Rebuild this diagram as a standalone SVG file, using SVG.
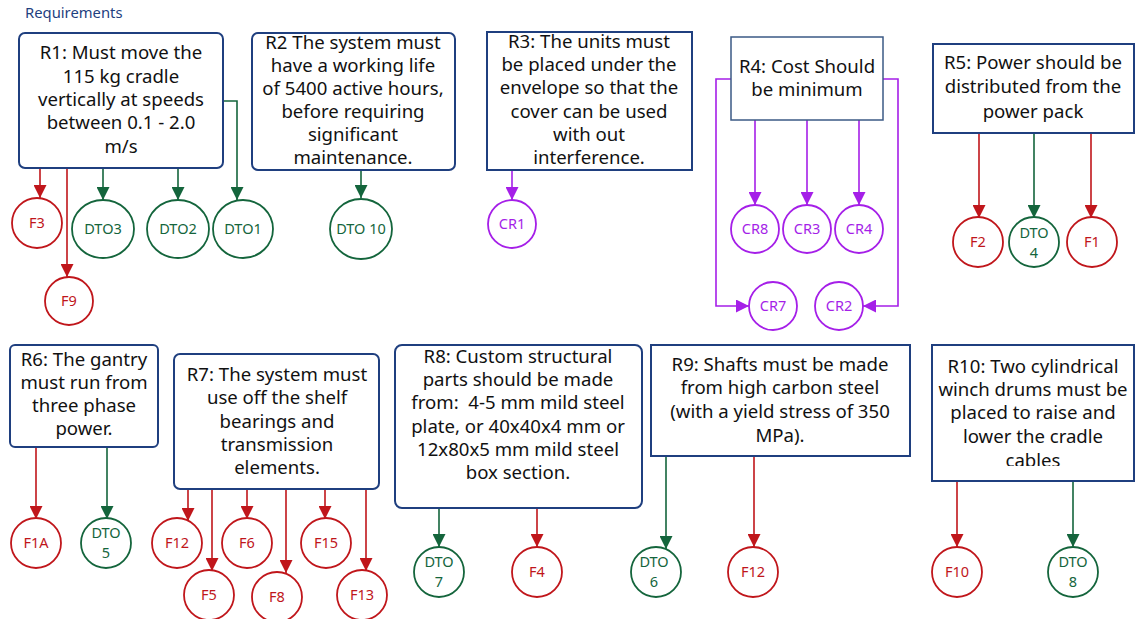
<svg xmlns="http://www.w3.org/2000/svg" width="1135" height="619" viewBox="0 0 1135 619">
<defs>
<style>
.box{fill:#fff;stroke:#1f3f7f;stroke-width:2}
.box2{fill:#fff;stroke:#3b5a85;stroke-width:1.5}
.bt{font-family:"Noto Sans","Open Sans",sans-serif;font-size:18.6px;fill:#111;text-anchor:middle}
.title{font-family:"Noto Sans","Open Sans",sans-serif;font-size:14.8px;fill:#1f3f7f}
.r{fill:#fff;stroke:#c0161b;stroke-width:1.8}
.g{fill:#fff;stroke:#14653c;stroke-width:1.8}
.p{fill:#fff;stroke:#a51fe8;stroke-width:1.8}
.rt,.gt,.pt{font-family:"Noto Sans","Open Sans",sans-serif;font-size:14.5px;text-anchor:middle}
.rt{fill:#c0161b}.gt{fill:#14653c}.pt{fill:#a51fe8}
.cr{fill:none;stroke:#c0161b;stroke-width:1.6;marker-end:url(#ar)}
.cg{fill:none;stroke:#14653c;stroke-width:1.6;marker-end:url(#ag)}
.cp{fill:none;stroke:#a51fe8;stroke-width:1.6;marker-end:url(#ap)}
</style>
<marker id="ar" viewBox="0 0 10 10" refX="10" refY="5" markerWidth="13" markerHeight="13" markerUnits="userSpaceOnUse" orient="auto"><path d="M0,0 L10,5 L0,10 z" fill="#c0161b"/></marker>
<marker id="ag" viewBox="0 0 10 10" refX="10" refY="5" markerWidth="13" markerHeight="13" markerUnits="userSpaceOnUse" orient="auto"><path d="M0,0 L10,5 L0,10 z" fill="#14653c"/></marker>
<marker id="ap" viewBox="0 0 10 10" refX="10" refY="5" markerWidth="13" markerHeight="13" markerUnits="userSpaceOnUse" orient="auto"><path d="M0,0 L10,5 L0,10 z" fill="#a51fe8"/></marker>
<clipPath id="clipR10"><rect x="932" y="345" width="203" height="121"/></clipPath>
</defs>
<rect width="1135" height="619" fill="#fff"/>
<text class="title" x="25" y="18">Requirements</text>

<g id="connectors">
<path class="cr" d="M40,168 V198"/>
<path class="cr" d="M67,168 V277"/>
<path class="cg" d="M103,168 V200"/>
<path class="cg" d="M178,168 V200"/>
<path class="cg" d="M223,101 H237 V200"/>
<path class="cg" d="M361,170 V198"/>
<path class="cp" d="M512,170 V200"/>
<path class="cp" d="M755,120 V205"/>
<path class="cp" d="M807,120 V205"/>
<path class="cp" d="M859,120 V205"/>
<path class="cp" d="M731,79 H716 V306 H749"/>
<path class="cp" d="M883,79 H898 V306 H863"/>
<path class="cr" d="M979,133 V218"/>
<path class="cg" d="M1034,133 V218"/>
<path class="cr" d="M1091,133 V218"/>
<path class="cr" d="M36,447 V519"/>
<path class="cg" d="M107,447 V519"/>
<path class="cr" d="M188,489 V521"/>
<path class="cr" d="M212,489 V571"/>
<path class="cr" d="M247,489 V519"/>
<path class="cr" d="M286,489 V573"/>
<path class="cr" d="M325,489 V519"/>
<path class="cr" d="M366,489 V571"/>
<path class="cg" d="M439,508 V547"/>
<path class="cr" d="M537,508 V547"/>
<path class="cg" d="M666,456 V549"/>
<path class="cr" d="M754,456 V547"/>
<path class="cr" d="M957,481 V547"/>
<path class="cg" d="M1073,481 V547"/>
</g>

<g id="R1"><rect class="box" x="19" y="33" width="204" height="135" rx="6"/>
<text class="bt"><tspan x="121" y="59">R1: Must move the</tspan><tspan x="121" y="83">115 kg cradle</tspan><tspan x="121" y="106">vertically at speeds</tspan><tspan x="121" y="129">between 0.1 - 2.0</tspan><tspan x="121" y="153">m/s</tspan></text></g>
<g id="F3"><circle class="r" cx="37" cy="223" r="25"/><text class="rt" x="37" y="228">F3</text></g>
<g id="F9"><circle class="r" cx="69" cy="301" r="24"/><text class="rt" x="69" y="306">F9</text></g>
<g id="DTO3"><ellipse class="g" cx="103" cy="229" rx="31" ry="29"/><text class="gt" x="103" y="234">DTO3</text></g>
<g id="DTO2"><ellipse class="g" cx="178" cy="229" rx="31" ry="29"/><text class="gt" x="178" y="234">DTO2</text></g>
<g id="DTO1"><ellipse class="g" cx="243" cy="229" rx="30" ry="29"/><text class="gt" x="243" y="234">DTO1</text></g>

<g id="R2"><rect class="box" x="252" y="33" width="203" height="137" rx="6"/>
<text class="bt"><tspan x="353" y="49">R2 The system must</tspan><tspan x="353" y="72">have a working life</tspan><tspan x="353" y="95">of 5400 active hours,</tspan><tspan x="353" y="118">before requiring</tspan><tspan x="353" y="141">significant</tspan><tspan x="353" y="164">maintenance.</tspan></text></g>
<g id="DTO10"><ellipse class="g" cx="361" cy="229" rx="31" ry="30"/><text class="gt" x="361" y="234">DTO 10</text></g>

<g id="R3"><rect class="box" x="487" y="32" width="205" height="138"/>
<text class="bt"><tspan x="589" y="48">R3: The units must</tspan><tspan x="589" y="71">be placed under the</tspan><tspan x="589" y="94">envelope so that the</tspan><tspan x="589" y="118">cover can be used</tspan><tspan x="589" y="141">with out</tspan><tspan x="589" y="164">interference.</tspan></text></g>
<g id="CR1"><circle class="p" cx="512" cy="224" r="24"/><text class="pt" x="512" y="229">CR1</text></g>

<g id="R4"><rect class="box2" x="731" y="37" width="152" height="83"/>
<text class="bt"><tspan x="807" y="73">R4: Cost Should</tspan><tspan x="807" y="96">be minimum</tspan></text></g>
<g id="CR8"><circle class="p" cx="755" cy="229" r="24"/><text class="pt" x="755" y="234">CR8</text></g>
<g id="CR3"><circle class="p" cx="807" cy="229" r="24"/><text class="pt" x="807" y="234">CR3</text></g>
<g id="CR4"><circle class="p" cx="859" cy="229" r="24"/><text class="pt" x="859" y="234">CR4</text></g>
<g id="CR7"><circle class="p" cx="773" cy="306" r="24"/><text class="pt" x="773" y="311">CR7</text></g>
<g id="CR2"><circle class="p" cx="839" cy="306" r="24"/><text class="pt" x="839" y="311">CR2</text></g>

<g id="R5"><rect class="box" x="933" y="44" width="201" height="89"/>
<text class="bt"><tspan x="1033" y="69">R5: Power should be</tspan><tspan x="1033" y="93">distributed from the</tspan><tspan x="1033" y="118">power pack</tspan></text></g>
<g id="F2"><circle class="r" cx="978" cy="242" r="25"/><text class="rt" x="978" y="247">F2</text></g>
<g id="DTO4"><circle class="g" cx="1034" cy="242" r="25"/><text class="gt"><tspan x="1034" y="238">DTO</tspan><tspan x="1034" y="258">4</tspan></text></g>
<g id="F1"><circle class="r" cx="1092" cy="242" r="25"/><text class="rt" x="1092" y="247">F1</text></g>

<g id="R6"><rect class="box" x="10" y="345" width="148" height="102" rx="5"/>
<text class="bt"><tspan x="84" y="366">R6: The gantry</tspan><tspan x="84" y="389">must run from</tspan><tspan x="84" y="412">three phase</tspan><tspan x="84" y="435">power.</tspan></text></g>
<g id="F1A"><circle class="r" cx="36" cy="543" r="25"/><text class="rt" x="36" y="548">F1A</text></g>
<g id="DTO5"><circle class="g" cx="106" cy="543" r="25"/><text class="gt"><tspan x="106" y="538">DTO</tspan><tspan x="106" y="558">5</tspan></text></g>

<g id="R7"><rect class="box" x="174" y="354" width="205" height="135" rx="6"/>
<text class="bt"><tspan x="277" y="381">R7: The system must</tspan><tspan x="277" y="404">use off the shelf</tspan><tspan x="277" y="428">bearings and</tspan><tspan x="277" y="451">transmission</tspan><tspan x="277" y="474">elements.</tspan></text></g>
<g id="F12a"><circle class="r" cx="177" cy="543" r="25"/><text class="rt" x="177" y="548">F12</text></g>
<g id="F6"><circle class="r" cx="247" cy="543" r="25"/><text class="rt" x="247" y="548">F6</text></g>
<g id="F15"><circle class="r" cx="326" cy="543" r="25"/><text class="rt" x="326" y="548">F15</text></g>
<g id="F5"><circle class="r" cx="209" cy="595" r="25"/><text class="rt" x="209" y="600">F5</text></g>
<g id="F8"><circle class="r" cx="277" cy="597" r="25"/><text class="rt" x="277" y="602">F8</text></g>
<g id="F13"><circle class="r" cx="362" cy="595" r="25"/><text class="rt" x="362" y="600">F13</text></g>

<g id="R8"><rect class="box" x="395" y="345" width="247" height="163" rx="7"/>
<text class="bt" style="white-space:pre"><tspan x="518" y="363">R8: Custom structural</tspan><tspan x="518" y="386">parts should be made</tspan><tspan x="518" y="409">from:  4-5 mm mild steel</tspan><tspan x="518" y="433">plate, or 40x40x4 mm or</tspan><tspan x="518" y="456">12x80x5 mm mild steel</tspan><tspan x="518" y="479">box section.</tspan></text></g>
<g id="DTO7"><circle class="g" cx="439" cy="572" r="25"/><text class="gt"><tspan x="439" y="567">DTO</tspan><tspan x="439" y="587">7</tspan></text></g>
<g id="F4"><circle class="r" cx="537" cy="572" r="25"/><text class="rt" x="537" y="577">F4</text></g>

<g id="R9"><rect class="box" x="651" y="345" width="259" height="111"/>
<text class="bt"><tspan x="780" y="371">R9: Shafts must be made</tspan><tspan x="780" y="394">from high carbon steel</tspan><tspan x="780" y="418">(with a yield stress of 350</tspan><tspan x="780" y="442">MPa).</tspan></text></g>
<g id="DTO6"><circle class="g" cx="656" cy="572" r="25"/><text class="gt"><tspan x="654" y="567">DTO</tspan><tspan x="654" y="587">6</tspan></text></g>
<g id="F12b"><circle class="r" cx="753" cy="572" r="25"/><text class="rt" x="753" y="577">F12</text></g>

<g id="R10"><rect class="box" x="932" y="345" width="202" height="136"/>
<text class="bt" clip-path="url(#clipR10)"><tspan x="1033" y="373">R10: Two cylindrical</tspan><tspan x="1033" y="396">winch drums must be</tspan><tspan x="1033" y="419">placed to raise and</tspan><tspan x="1033" y="443">lower the cradle</tspan><tspan x="1033" y="467">cables</tspan></text></g>
<g id="F10"><circle class="r" cx="957" cy="572" r="25"/><text class="rt" x="957" y="577">F10</text></g>
<g id="DTO8"><circle class="g" cx="1073" cy="572" r="25"/><text class="gt"><tspan x="1073" y="567">DTO</tspan><tspan x="1073" y="587">8</tspan></text></g>
</svg>
